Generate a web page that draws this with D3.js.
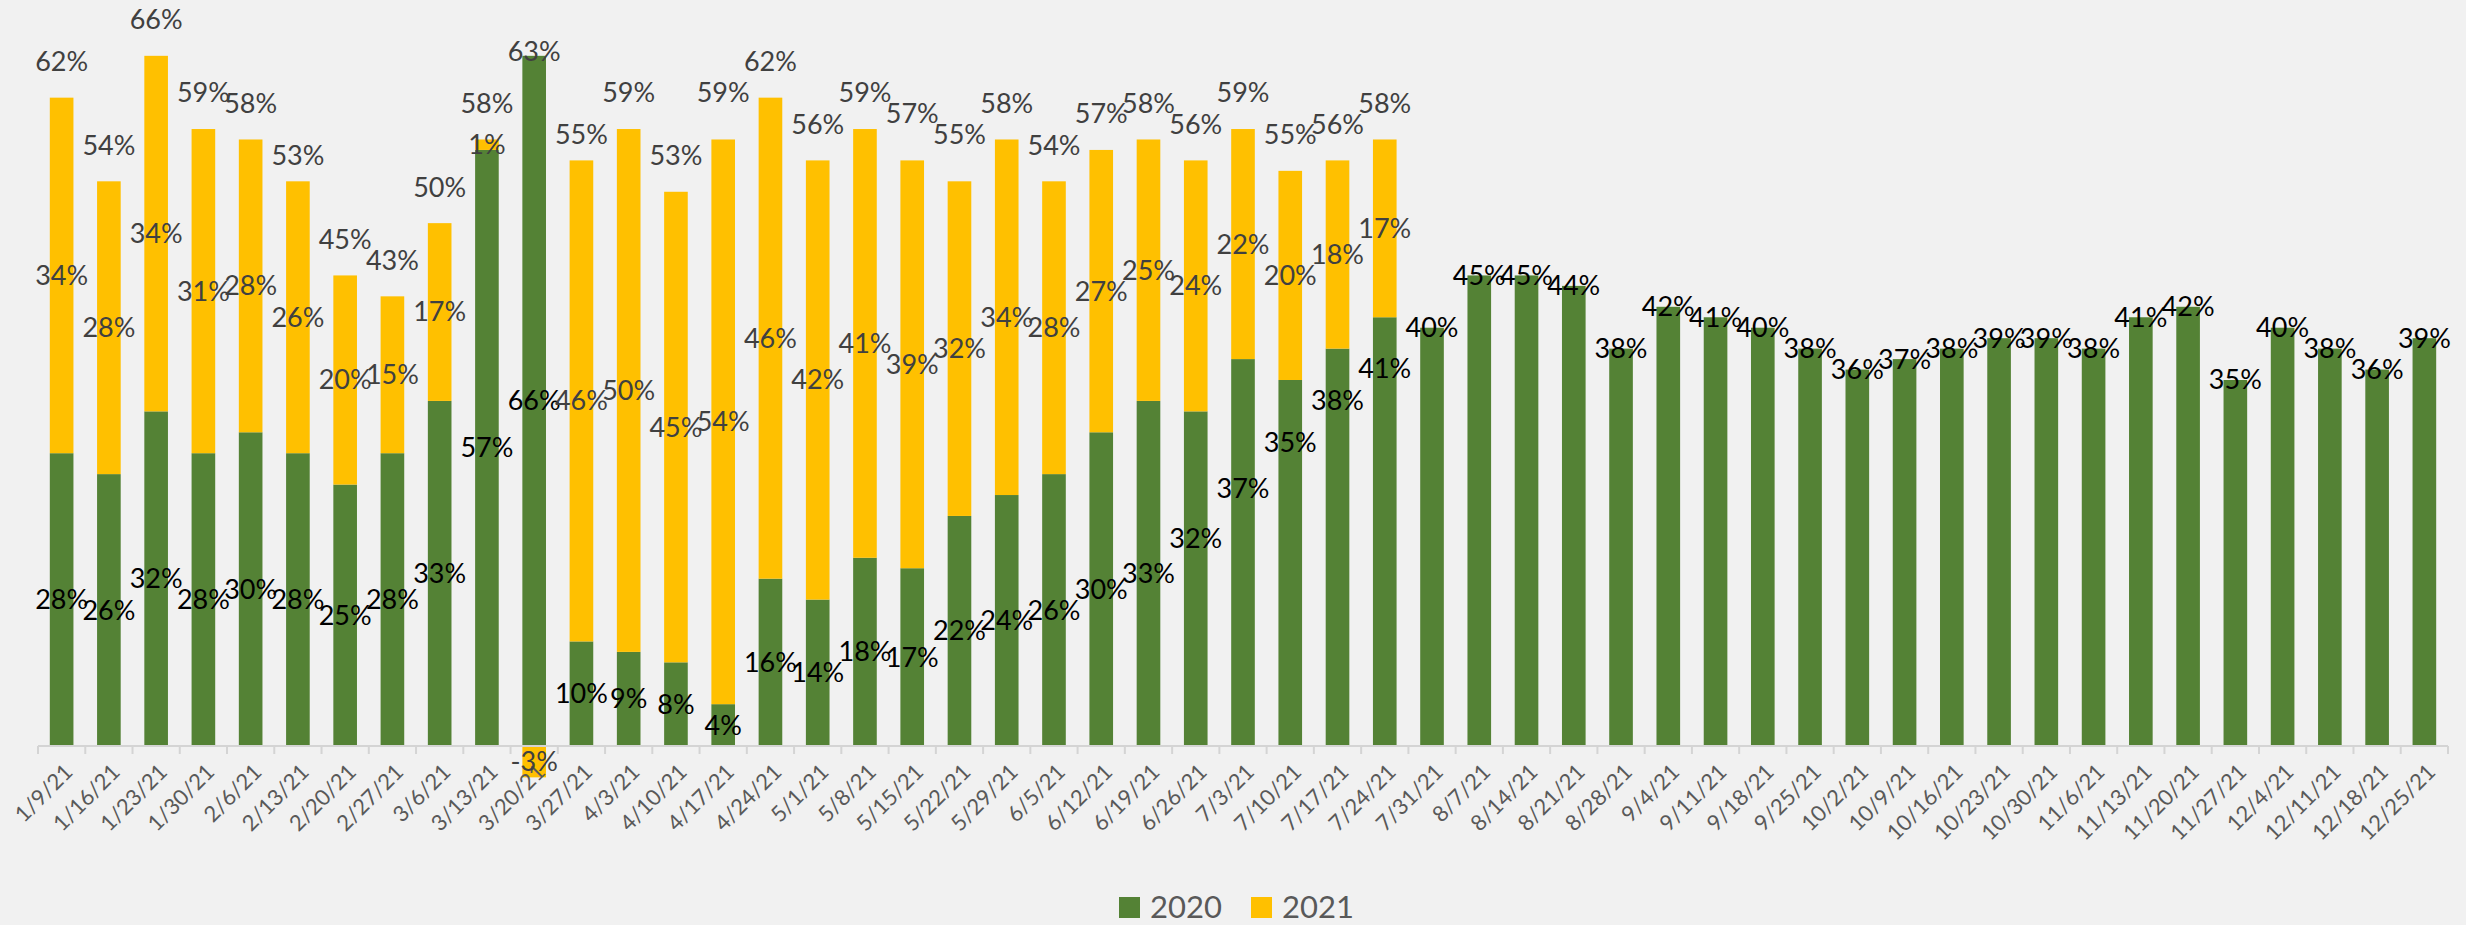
<!DOCTYPE html>
<html>
<head>
<meta charset="utf-8">
<script src="https://cdn.jsdelivr.net/npm/d3@7"></script>
<style>
  body { margin: 0; background: #f1f1f1; }
  svg { display: block; font-family: Lato, "Open Sans", sans-serif; }
</style>
</head>
<body>
<svg id="chart" width="2466" height="925"></svg>
<script>
// week ending dates
const weeks = [
  "1/9/21", "1/16/21", "1/23/21", "1/30/21", "2/6/21", "2/13/21", "2/20/21", "2/27/21",
  "3/6/21", "3/13/21", "3/20/21", "3/27/21", "4/3/21", "4/10/21", "4/17/21", "4/24/21",
  "5/1/21", "5/8/21", "5/15/21", "5/22/21", "5/29/21", "6/5/21", "6/12/21", "6/19/21",
  "6/26/21", "7/3/21", "7/10/21", "7/17/21", "7/24/21", "7/31/21", "8/7/21", "8/14/21",
  "8/21/21", "8/28/21", "9/4/21", "9/11/21", "9/18/21", "9/25/21", "10/2/21", "10/9/21",
  "10/16/21", "10/23/21", "10/30/21", "11/6/21", "11/13/21", "11/20/21", "11/27/21",
  "12/4/21", "12/11/21", "12/18/21", "12/25/21"
];

// 2020 series (green)
const vals2020 = [
  28, 26, 32, 28, 30, 28, 25, 28, 33, 57, 66, 10, 9, 8, 4, 16,
  14, 18, 17, 22, 24, 26, 30, 33, 32, 37, 35, 38, 41, 40, 45, 45,
  44, 38, 42, 41, 40, 38, 36, 37, 38, 39, 39, 38, 41, 42, 35,
  40, 38, 36, 39
];

// 2021 series (yellow), only through 7/24
const vals2021 = [
  34, 28, 34, 31, 28, 26, 20, 15, 17, 1, -3, 46, 50, 45, 54, 46,
  42, 41, 39, 32, 34, 28, 27, 25, 24, 22, 20, 18, 17
];

// total labels shown above the stacks
const totals = [
  62, 54, 66, 59, 58, 53, 45, 43, 50, 58, 63, 55, 59, 53, 59, 62,
  56, 59, 57, 55, 58, 54, 57, 58, 56, 59, 55, 56, 58
];

const COLORS = { g: "#548235", y: "#FFC000", text: "#404040", tick: "#595959" };

// where the 2020 label sits within its segment (fraction from the base)
const greenLabelFrac = { "6/26/21": 0.62, "7/3/21": 0.665, "7/10/21": 0.83, "7/17/21": 0.87, "7/24/21": 0.88 };

const svg = d3.select("#chart");
const left = 38, right = 2448;

const x = d3.scaleBand()
  .domain(weeks)
  .range([left, right])
  .paddingInner(0.5)
  .paddingOuter(0.25);

const y = d3.scaleLinear()
  .domain([0, 70])
  .range([746, 14]);

const data = weeks.map((w, i) => ({
  week: w,
  g: vals2020[i],
  y: i < vals2021.length ? vals2021[i] : null,
  total: i < totals.length ? totals[i] : null
}));

// segments (negative 2021 values hang below the axis like Excel does)
const segs = [];
data.forEach(d => {
  segs.push({ week: d.week, key: "g", y0: 0, y1: d.g });
  if (d.y !== null) {
    if (d.y >= 0) segs.push({ week: d.week, key: "y", y0: d.g, y1: d.g + d.y });
    else segs.push({ week: d.week, key: "y", y0: d.y, y1: 0 });
  }
});

svg.append("g")
  .selectAll("rect")
  .data(segs)
  .join("rect")
  .attr("x", d => x(d.week))
  .attr("width", x.bandwidth())
  .attr("y", d => y(Math.max(d.y0, d.y1)))
  .attr("height", d => Math.abs(y(d.y0) - y(d.y1)))
  .attr("fill", d => COLORS[d.key]);

// axis line + ticks between categories
const axis = svg.append("g");
axis.append("line")
  .attr("x1", left).attr("x2", right)
  .attr("y1", y(0)).attr("y2", y(0))
  .attr("stroke", "#d4d4d4").attr("stroke-width", 2);

axis.selectAll(".tk")
  .data(d3.range(weeks.length + 1))
  .join("line")
  .attr("x1", i => left + i * x.step())
  .attr("x2", i => left + i * x.step())
  .attr("y1", y(0)).attr("y2", y(0) + 8)
  .attr("stroke", "#d4d4d4").attr("stroke-width", 2);

axis.selectAll(".lbl")
  .data(weeks)
  .join("text")
  .attr("transform", w => `translate(${x(w) + x.bandwidth() / 2 + 7}, ${y(0) + 22}) rotate(-45)`)
  .attr("text-anchor", "end")
  .attr("dy", "0.35em")
  .attr("font-size", 22)
  .attr("fill", COLORS.tick)
  .text(w => w);

// value labels
const labels = svg.append("g").attr("font-size", 27).attr("text-anchor", "middle");
const cx = w => x(w) + x.bandwidth() / 2;

labels.selectAll(".gl")
  .data(data)
  .join("text")
  .attr("x", d => cx(d.week))
  .attr("y", d => {
    let f = d.y === null ? 1 : 0.5;
    if (greenLabelFrac[d.week] !== undefined) f = greenLabelFrac[d.week];
    return y(d.g * f);
  })
  .attr("dy", "0.35em")
  .attr("fill", "#000")
  .text(d => d.g + "%");

labels.selectAll(".yl")
  .data(data.filter(d => d.y !== null))
  .join("text")
  .attr("x", d => cx(d.week))
  .attr("y", d => d.y >= 0 ? y(d.g + d.y / 2) : y(d.y / 2))
  .attr("dy", "0.35em")
  .attr("fill", COLORS.text)
  .text(d => d.y + "%");

labels.selectAll(".tl")
  .data(data.filter(d => d.total !== null))
  .join("text")
  .attr("x", d => cx(d.week))
  .attr("y", d => y(d.total) - 36)
  .attr("dy", "0.35em")
  .attr("fill", COLORS.text)
  .text(d => d.total + "%");

// legend
const legend = svg.append("g").attr("transform", "translate(1119, 907)");
const items = [{ name: "2020", c: COLORS.g, dx: 0 }, { name: "2021", c: COLORS.y, dx: 132 }];
const li = legend.selectAll("g").data(items).join("g")
  .attr("transform", d => `translate(${d.dx},0)`);
li.append("rect").attr("x", 0).attr("y", -10).attr("width", 21).attr("height", 21).attr("fill", d => d.c);
li.append("text").attr("x", 31).attr("dy", "0.35em").attr("font-size", 31)
  .attr("fill", COLORS.tick).text(d => d.name);
</script>
</body>
</html>
